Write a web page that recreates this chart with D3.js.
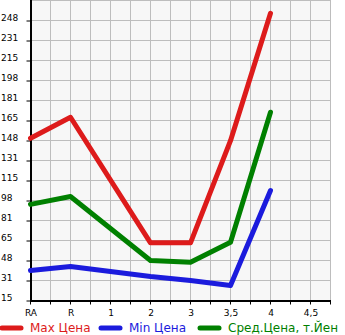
<!DOCTYPE html>
<html><head><meta charset="utf-8">
<script src="https://cdn.jsdelivr.net/npm/d3@7"></script>
<style>body{margin:0;background:#fff}svg{display:block}</style>
</head><body><svg id="c" width="345" height="335"></svg>
<script>
const categories = ["RA","R","1","2","3","3,5","4","4,5"];
const maxPrice = [150, 167.5, null, 63, 63, 148, 254, null];
const minPrice = [40, 43.3, null, 35, 31.6, 27.5, 106.5, null];
const avgPrice = [95, 101.5, null, 48.3, 46.9, 63.5, 171.7, null];
const yTickLabels = ["15","31","48","65","81","98","115","131","148","165","181","198","215","231","248"];
const seriesNames = ["Max Цена","Min Цена","Сред.Цена, т.Йен"];
const colors = ["#dd1b1b","#1b1bdd","#008000"];

const svg = d3.select("#c");
const pLeft = 30.5, pRight = 330.5, pTop = 0.5, pBottom = 300.5;
const yMin = 15, yStep = (248 - 15) / 14;
const y = d3.scaleLinear().domain([yMin, yMin + yStep * 15]).range([pBottom, pTop]);
const x = d3.scalePoint().domain(categories).range([pLeft, pLeft + 280]);

svg.append("rect").attr("x", pLeft).attr("y", 0).attr("width", pRight - pLeft).attr("height", pBottom)
  .attr("fill", "#f7f7f7");

// grid
const g = svg.append("g").attr("stroke", "#bdbdbd").attr("stroke-width", 1);
for (let i = 1; i <= 15; i++) {
  const gx = pLeft + i * 20;
  g.append("line").attr("x1", gx).attr("x2", gx).attr("y1", 0).attr("y2", pBottom);
}
const yTickVals = yTickLabels.map((d, i) => yMin + i * yStep);
yTickVals.concat([yMin + 15 * yStep]).forEach(v => {
  g.append("line").attr("x1", pLeft).attr("x2", pRight).attr("y1", y(v)).attr("y2", y(v));
});

// y axis
const yAxis = d3.axisLeft(y).tickValues(yTickVals).tickFormat((d, i) => yTickLabels[i]).tickSize(4).tickSizeOuter(0);
const ya = svg.append("g").attr("transform", `translate(${pLeft},0)`).call(yAxis);
ya.select(".domain").remove();
ya.selectAll(".tick line").attr("stroke", "#000");
ya.selectAll(".tick text").attr("x", -29.5).attr("dy", "-0.05em").attr("text-anchor", "start")
  .attr("font-family", "DejaVu Sans").attr("font-size", 9).attr("fill", "#000");

// x axis
const xa = svg.append("g").attr("transform", `translate(0,${pBottom})`).call(d3.axisBottom(x).tickSize(0));
xa.select(".domain").remove();
xa.selectAll(".tick text").attr("dy", 0).attr("y", 15)
  .attr("font-family", "DejaVu Sans").attr("font-size", 9).attr("fill", "#000");
for (let i = 0; i <= 15; i++) {
  const gx = pLeft + i * 20;
  svg.append("line").attr("x1", gx).attr("x2", gx).attr("y1", pBottom).attr("y2", pBottom + 4).attr("stroke", "#000");
}
svg.append("line").attr("x1", pLeft - 0.5).attr("x2", pRight + 0.5).attr("y1", pBottom + 0.5).attr("y2", pBottom + 0.5)
  .attr("stroke", "#000").attr("stroke-width", 2);
svg.append("line").attr("x1", pLeft + 0.5).attr("x2", pLeft + 0.5).attr("y1", 0).attr("y2", pBottom + 1.5)
  .attr("stroke", "#000").attr("stroke-width", 2);

// lines
const line = d3.line().defined(d => d.v != null).x(d => x(d.c)).y(d => y(d.v));
[maxPrice, minPrice, avgPrice].forEach((arr, si) => {
  const pts = categories.map((c, i) => ({c, v: arr[i]})).filter(d => d.v != null);
  svg.append("path").datum(pts).attr("d", line).attr("fill", "none")
    .attr("stroke", colors[si]).attr("stroke-width", 5).attr("stroke-linejoin", "round").attr("stroke-linecap", "round");
});

// legend
const legX = [0, 99, 198];
seriesNames.forEach((n, i) => {
  svg.append("line").attr("x1", legX[i] + 2).attr("x2", legX[i] + 21).attr("y1", 328).attr("y2", 328)
    .attr("stroke", colors[i]).attr("stroke-width", 5).attr("stroke-linecap", "round");
  svg.append("text").attr("x", legX[i] + 30).attr("y", 332).text(n)
    .attr("font-family", "DejaVu Sans").attr("font-size", 12).attr("fill", colors[i]);
});
</script></body></html>
